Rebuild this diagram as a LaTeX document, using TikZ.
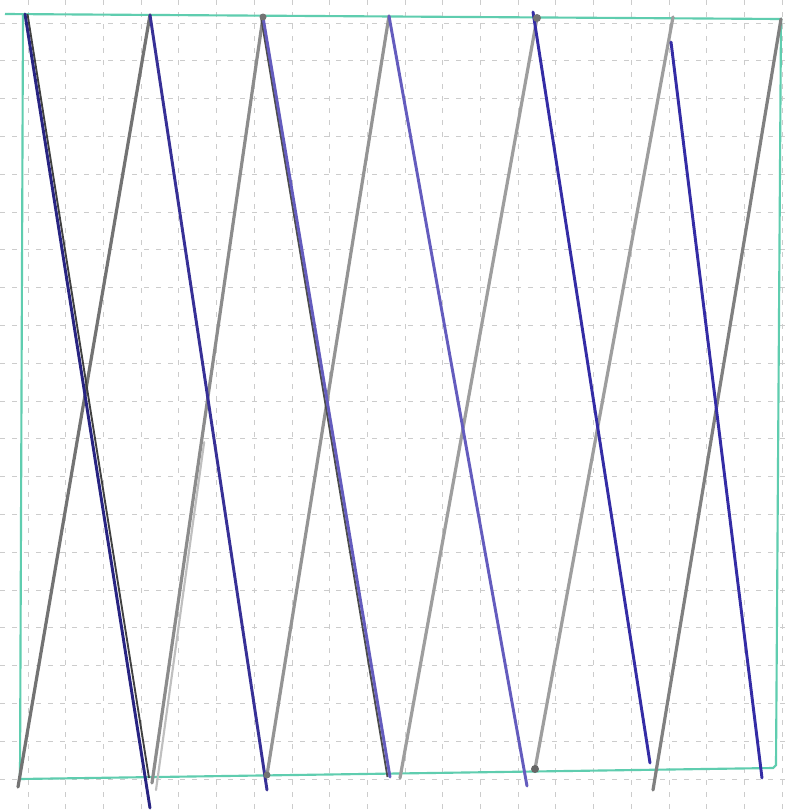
\documentclass[tikz,border=0pt]{standalone}
\usetikzlibrary{calc}
\begin{document}
\begin{tikzpicture}[x=0.75pt,y=-0.75pt,
  gridline/.style={draw=black!20, line width=0.6pt, dash pattern=on 3.5pt off 5.5pt},
  frame/.style={line width=1.6pt},
  bluestroke/.style={line width=2.2pt, line cap=round},
  graystroke/.style={line width=2.4pt, line cap=round}]
\definecolor{frameteal}{RGB}{95,205,175}
\definecolor{navyA}{RGB}{40,36,130}
\definecolor{navyB}{RGB}{55,48,150}
\definecolor{violetA}{RGB}{100,92,190}
\definecolor{blueC}{RGB}{52,44,165}
\useasboundingbox (0,0) rectangle (785,811);
\fill[white] (0,0) rectangle (785,811);
% grid
\foreach \k in {0,...,20} { \draw[gridline] (28+37.7*\k,0) -- (28+37.7*\k,811); }
\foreach \k in {0,...,21} { \draw[gridline] (0,23+37.8*\k) -- (785,23+37.8*\k); }
% frame corners
\coordinate (TL) at (23,14);
\coordinate (TLx) at (5,14);
\coordinate (TR) at (781,19);
\coordinate (BR) at (773,768);
\coordinate (BRx) at (776,765);
\coordinate (BL) at (20,779);
\draw[frame, draw=frameteal] (TLx) -- (TR) -- (BRx) -- (BR) -- (BL) -- (TL);
% zigzag points
\coordinate (T1) at (25,14);
\coordinate (T2) at (150,15);
\coordinate (T3) at (263,17);
\coordinate (T4) at (389,16);
\coordinate (T5) at (533,12);
\coordinate (T5g) at (537,18);
\coordinate (T6) at (671,42);
\coordinate (T6g) at (673,17);
\coordinate (T7) at (781,19);
\coordinate (B1) at (18,787);
\coordinate (B2) at (150,808);
\coordinate (B2g) at (152,783);
\coordinate (B2h) at (156,790);
\coordinate (B3) at (267,790);
\coordinate (B3g) at (267,775);
\coordinate (B4) at (390,777);
\coordinate (B4g) at (400,778);
\coordinate (B5) at (527,786);
\coordinate (B5g) at (535,769);
\coordinate (B6) at (650,763);
\coordinate (B6g) at (653,790);
\coordinate (B7) at (762,778);
% gray strokes (rising)
\draw[graystroke, draw=black!55] (B1) -- (T2);
\draw[graystroke, draw=black!45] (B2g) -- (T3);
\draw[graystroke, draw=black!25, line width=1.6pt] (B2h) -- ($(B2h)!0.45!(T3)$);
\draw[graystroke, draw=black!42] (B3g) -- (T4);
\draw[graystroke, draw=black!38] (B4g) -- (T5g);
\draw[graystroke, draw=black!38] (B5g) -- (T6g);
\draw[graystroke, draw=black!50] (B6g) -- (T7);
% blue strokes (falling)
\draw[line width=1.4pt, draw=black!75] ($(T1)+(2.5,0)$) -- ($(B2)+(-1,-30)$);
\draw[bluestroke, draw=navyA] (T1) -- (B2);
\draw[bluestroke, draw=navyB] (T2) -- (B3);
\draw[line width=1.4pt, draw=black!70] ($(T3)+(-2,0)$) -- ($(B4)+(-2.5,0)$);
\draw[bluestroke, draw=violetA] (T3) -- (B4);
\draw[bluestroke, draw=violetA] (T4) -- (B5);
\draw[bluestroke, draw=blueC] (T5) -- (B6);
\draw[bluestroke, draw=blueC] (T6) -- (B7);
% dots at vertices
\fill[black!55] (T3) circle (3.5);
\fill[black!55] (T5g) circle (4);
\fill[black!60] (B5g) circle (4);
\fill[black!55] (B3g) circle (3.5);
\end{tikzpicture}
\end{document}
